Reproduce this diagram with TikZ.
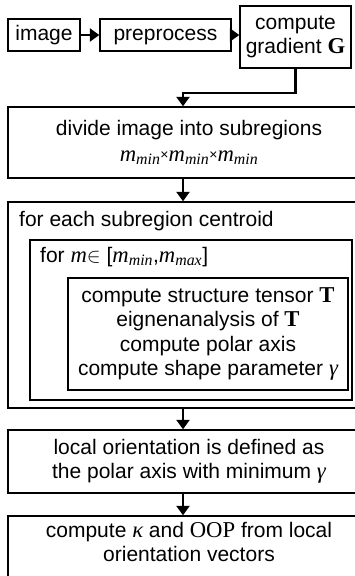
\documentclass[tikz,border=0pt]{standalone}
\usepackage{fontspec}
\setmainfont{Liberation Sans}
\newfontfamily\tmr[Scale=1.08]{Liberation Serif}
\usetikzlibrary{arrows.meta}
\newcommand\vi[1]{{\tmr\itshape #1}}
\newcommand\vb[1]{{\tmr\bfseries #1}}
\newcommand\mmin{\vi{m}\textsubscript{\vi{min}}}
\newcommand\mmax{\vi{m}\textsubscript{\vi{max}}}
\newcommand\tms{{\fontsize{14}{14}\selectfont\raisebox{1.5pt}{×}}}
\begin{document}
\begin{tikzpicture}[x=1pt,y=-1pt,
  font=\fontsize{21}{24.5}\selectfont,
  box/.style={draw, line width=1.4pt, inner sep=0pt, align=center},
  one/.style={text height=15pt, text depth=4.5pt},
  arr/.style={line width=2.6pt, -{Triangle[width=13pt,length=9.5pt]}}]
\useasboundingbox (0,0) rectangle (354,576);
\node[box, one, minimum width=72, minimum height=32] (img) at (44,35) {image};
\node[box, one, minimum width=131, minimum height=32] (pre) at (165.5,35) {preprocess};
\node[box, minimum width=111, minimum height=62] (grad) at (295.5,37) {compute\\gradient \vb{G}};
\node[box, minimum width=362, minimum height=71] (div) at (189,142.5) {divide image into subregions\\[1pt] \mmin\tms\mmin\tms\mmin};
\node[box, minimum width=362, minimum height=206] (each) at (189,305) {};
\node[anchor=west, inner sep=0pt] (eachT) at (19,221) {for each subregion centroid};
\node[box, minimum width=322, minimum height=160] (form) at (191,320) {};
\node[anchor=west, inner sep=0pt] (formT) at (40,257) {for \vi{m}$\in$ [\mmin,\mmax]};
\node[box, minimum width=280, minimum height=112] (inner) at (208,334) {compute structure tensor \vb{T}\\eignenanalysis of \vb{T}\\compute polar axis\\compute shape parameter \vi{γ}};
\node[box, minimum width=362, minimum height=63] (loc) at (189,461.5) {local orientation is defined as\\the polar axis with minimum \vi{γ}};
\node[box, minimum width=362, minimum height=84] (kap) at (189,558) {};
\node[align=center, inner sep=0pt] (kapT) at (189,542) {compute \vi{κ} and {\tmr OOP} from local\\orientation vectors};
\coordinate (c1) at (183,93);
\draw[arr] (img.east) -- (pre.west);
\draw[arr] (pre.east) -- (pre.east -| grad.west);
\draw[arr] (grad.south) |- (c1) -- (c1 |- div.north);
\draw[arr] (c1 |- div.south) -- (c1 |- each.north);
\draw[arr] (c1 |- each.south) -- (c1 |- loc.north);
\draw[arr] (c1 |- loc.south) -- (c1 |- kap.north);
\end{tikzpicture}
\end{document}
